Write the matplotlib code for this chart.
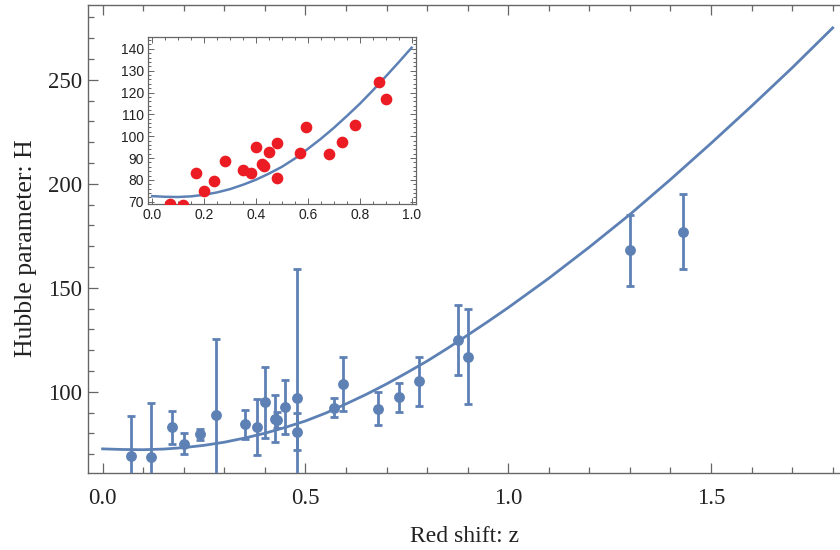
import matplotlib
matplotlib.use("Agg")
import matplotlib.pyplot as plt
from matplotlib.ticker import MultipleLocator, FormatStrFormatter

z_obs = [0.07, 0.12, 0.17, 0.2, 0.24, 0.28, 0.35, 0.38, 0.4, 0.425, 0.43, 0.45,
         0.48, 0.48, 0.57, 0.593, 0.68, 0.73, 0.781, 0.875, 0.9, 1.3, 1.43]
H_obs = [69, 68.6, 83, 75, 79.7, 88.8, 84.4, 83, 95, 87.1, 86.45, 92.8,
         97, 80.9, 92.4, 104, 92, 97.3, 105, 125, 117, 168, 177]
H_err = [19.6, 26.2, 8, 5, 2.65, 36.6, 7, 13.5, 17, 11.2, 3.68, 12.9,
         62, 9, 4.5, 13, 8, 7, 12, 17, 23, 17, 18]

# fitted curve (every 0.05 up to z=1, then every 0.1)
z_fit = [0.0, 0.05, 0.1, 0.15, 0.2, 0.25, 0.3, 0.35, 0.4, 0.45,
         0.5, 0.55, 0.6, 0.65, 0.7, 0.75, 0.8, 0.85, 0.9, 0.95,
         1.0, 1.1, 1.2, 1.3, 1.4, 1.5, 1.6, 1.7, 1.8]
H_fit = [72.6, 72.3, 72.2, 72.5, 73.2, 74.3, 75.8, 77.8, 80.1, 82.9,
         86.0, 89.8, 94.2, 98.8, 103.8, 109.2, 114.8, 120.9, 127.3, 133.8,
         140.5, 154.6, 169.6, 185.3, 202.1, 219.5, 237.4, 255.8, 275.0]
n_inset = 21  # curve points with z <= 1 shown in the inset
n_low = 21    # observed points with z < 1 shown in the inset

blue = '#5e81b5'
red = '#ec1c24'
frame = '#666666'

fig = plt.figure(figsize=(8.4, 5.5), dpi=100)
ax = fig.add_axes([88 / 840, 1 - 473 / 550, 752 / 840, 468 / 550])

ax.plot(z_fit, H_fit, color=blue, lw=2.0, zorder=2)
ax.errorbar(z_obs, H_obs, yerr=H_err, fmt='o', ms=6.8, color=blue,
            elinewidth=2.0, capsize=3.2, capthick=2.0, zorder=3)

ax.set_xlim(-0.036, 1.818)
ax.set_ylim(61.0, 286.0)
ax.xaxis.set_major_locator(MultipleLocator(0.5))
ax.xaxis.set_minor_locator(MultipleLocator(0.1))
ax.xaxis.set_major_formatter(FormatStrFormatter('%.1f'))
ax.yaxis.set_major_locator(MultipleLocator(50))
ax.yaxis.set_minor_locator(MultipleLocator(10))
ax.spines['right'].set_visible(False)
for s in ['left', 'bottom', 'top']:
    ax.spines[s].set_color(frame)
    ax.spines[s].set_linewidth(1.0)
ax.tick_params(which='both', direction='in', top=True, right=False,
               color=frame, width=0.9)
ax.tick_params(which='major', length=7)
ax.tick_params(which='minor', length=4)
ax.tick_params(axis='x', pad=11)
ax.tick_params(axis='y', pad=4)
for lab in ax.get_xticklabels() + ax.get_yticklabels():
    lab.set_fontfamily('Liberation Serif')
    lab.set_fontsize(16.5)
    lab.set_color('#222222')

ax.set_xlabel('Red shift: z', family='Liberation Serif', fontsize=17,
              color='#222222', labelpad=12)
ax.set_ylabel('Hubble parameter: H', family='Liberation Serif', fontsize=18.5,
              color='#222222')
ax.yaxis.set_label_coords(-0.068, 0.48)

# inset with the low-redshift points
axi = fig.add_axes([148 / 840, 1 - 204 / 550, 268 / 840, 167 / 550])
axi.plot(z_fit[:n_inset], H_fit[:n_inset], color=blue, lw=1.8, zorder=2)
axi.plot(z_obs[:n_low], H_obs[:n_low], 'o', color=red, ms=7.4, zorder=3)
axi.set_xlim(-0.016, 1.017)
axi.set_ylim(69.0, 145.4)
axi.xaxis.set_major_locator(MultipleLocator(0.2))
axi.xaxis.set_minor_locator(MultipleLocator(0.05))
axi.xaxis.set_major_formatter(FormatStrFormatter('%.1f'))
axi.yaxis.set_major_locator(MultipleLocator(10))
axi.yaxis.set_minor_locator(MultipleLocator(2))
for s in axi.spines.values():
    s.set_color(frame)
    s.set_linewidth(0.9)
axi.tick_params(which='both', direction='in', top=True, right=True,
                color=frame, width=0.7, pad=3)
axi.tick_params(which='major', length=4)
axi.tick_params(which='minor', length=2)
for lab in axi.get_xticklabels() + axi.get_yticklabels():
    lab.set_fontfamily('Liberation Sans')
    lab.set_fontsize(10)
    lab.set_color('#222222')

fig.savefig('out.png', dpi=100)
